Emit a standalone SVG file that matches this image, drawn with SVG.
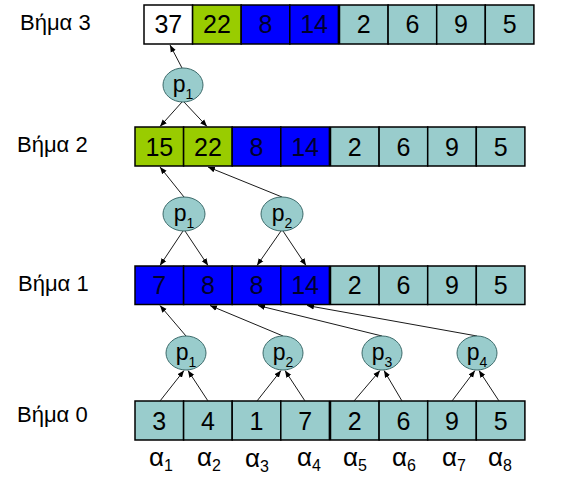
<svg xmlns="http://www.w3.org/2000/svg" width="570" height="477" viewBox="0 0 570 477">
<style>
.lbl{font-family:"Liberation Sans",Arial,sans-serif;font-size:22px;fill:#000}
.num{font-family:"Liberation Sans",Arial,sans-serif;font-size:25px;fill:#000;text-anchor:middle}
.nb{fill:#00002e}
.c{stroke:#000;stroke-width:1.5}
.w{fill:#fff}.g{fill:#99cc00}.b{fill:#0000ff}.t{fill:#99cccc}
.ell{fill:#99cccc;stroke:#3d6b6b;stroke-width:1}
.pl{font-family:"Liberation Sans",Arial,sans-serif;font-size:23px;fill:#000;text-anchor:middle}
.al{font-family:"Liberation Sans",Arial,sans-serif;font-size:26px;fill:#000;text-anchor:middle}
.con line{stroke:#1a1a1a;stroke-width:1;marker-end:url(#ah)}
</style>
<defs>
<marker id="ah" viewBox="0 0 10 10" refX="10" refY="5" markerWidth="7" markerHeight="7" orient="auto" markerUnits="userSpaceOnUse">
<path d="M0,1 L10,5 L0,9 z" fill="#000"/>
</marker>
</defs>

<g id="labels">
<text class="lbl" x="20" y="30">Βήμα 3</text>
<text class="lbl" x="17" y="152">Βήμα 2</text>
<text class="lbl" x="18" y="291">Βήμα 1</text>
<text class="lbl" x="17" y="422">Βήμα 0</text>
</g>

<g id="row3">
<rect class="c w" x="144" y="5" width="48.6" height="39"/>
<rect class="c g" x="192.6" y="5" width="48.6" height="39"/>
<rect class="c b" x="241.2" y="5" width="48.6" height="39"/>
<rect class="c b" x="289.8" y="5" width="48.6" height="39"/>
<rect class="c t" x="339.5" y="5" width="48.6" height="39"/>
<rect class="c t" x="388.1" y="5" width="48.6" height="39"/>
<rect class="c t" x="436.7" y="5" width="48.6" height="39"/>
<rect class="c t" x="485.3" y="5" width="48.6" height="39"/>
<text class="num" x="168.3" y="33">37</text>
<text class="num" x="216.9" y="33">22</text>
<text class="num nb" x="265.5" y="33">8</text>
<text class="num nb" x="314.1" y="33">14</text>
<text class="num" x="363.8" y="33">2</text>
<text class="num" x="412.4" y="33">6</text>
<text class="num" x="461" y="33">9</text>
<text class="num" x="509.6" y="33">5</text>
</g>

<g id="row2">
<rect class="c g" x="135" y="127" width="48.6" height="39"/>
<rect class="c g" x="183.6" y="127" width="48.6" height="39"/>
<rect class="c b" x="232.2" y="127" width="48.6" height="39"/>
<rect class="c b" x="280.8" y="127" width="48.6" height="39"/>
<rect class="c t" x="330.5" y="127" width="48.6" height="39"/>
<rect class="c t" x="379.1" y="127" width="48.6" height="39"/>
<rect class="c t" x="427.7" y="127" width="48.6" height="39"/>
<rect class="c t" x="476.3" y="127" width="48.6" height="39"/>
<text class="num" x="159.3" y="155.5">15</text>
<text class="num" x="207.9" y="155.5">22</text>
<text class="num nb" x="256.5" y="155.5">8</text>
<text class="num nb" x="305.1" y="155.5">14</text>
<text class="num" x="354.8" y="155.5">2</text>
<text class="num" x="403.4" y="155.5">6</text>
<text class="num" x="452" y="155.5">9</text>
<text class="num" x="500.6" y="155.5">5</text>
</g>

<g id="row1">
<rect class="c b" x="135" y="266" width="48.6" height="38.5"/>
<rect class="c b" x="183.6" y="266" width="48.6" height="38.5"/>
<rect class="c b" x="232.2" y="266" width="48.6" height="38.5"/>
<rect class="c b" x="280.8" y="266" width="48.6" height="38.5"/>
<rect class="c t" x="330.5" y="266" width="48.6" height="38.5"/>
<rect class="c t" x="379.1" y="266" width="48.6" height="38.5"/>
<rect class="c t" x="427.7" y="266" width="48.6" height="38.5"/>
<rect class="c t" x="476.3" y="266" width="48.6" height="38.5"/>
<text class="num nb" x="159.3" y="294">7</text>
<text class="num nb" x="207.9" y="294">8</text>
<text class="num nb" x="256.5" y="294">8</text>
<text class="num nb" x="305.1" y="294">14</text>
<text class="num" x="354.8" y="294">2</text>
<text class="num" x="403.4" y="294">6</text>
<text class="num" x="452" y="294">9</text>
<text class="num" x="500.6" y="294">5</text>
</g>

<g id="row0">
<rect class="c t" x="135" y="401" width="48.6" height="39"/>
<rect class="c t" x="183.6" y="401" width="48.6" height="39"/>
<rect class="c t" x="232.2" y="401" width="48.6" height="39"/>
<rect class="c t" x="280.8" y="401" width="48.6" height="39"/>
<rect class="c t" x="330.5" y="401" width="48.6" height="39"/>
<rect class="c t" x="379.1" y="401" width="48.6" height="39"/>
<rect class="c t" x="427.7" y="401" width="48.6" height="39"/>
<rect class="c t" x="476.3" y="401" width="48.6" height="39"/>
<text class="num" x="159.3" y="429.5">3</text>
<text class="num" x="207.9" y="429.5">4</text>
<text class="num" x="256.5" y="429.5">1</text>
<text class="num" x="305.1" y="429.5">7</text>
<text class="num" x="354.8" y="429.5">2</text>
<text class="num" x="403.4" y="429.5">6</text>
<text class="num" x="452" y="429.5">9</text>
<text class="num" x="500.6" y="429.5">5</text>
</g>

<g id="alphas">
<text class="al" x="161" y="466">α<tspan font-size="16" dy="5">1</tspan></text>
<text class="al" x="209" y="466">α<tspan font-size="16" dy="5">2</tspan></text>
<text class="al" x="257" y="467">α<tspan font-size="16" dy="5">3</tspan></text>
<text class="al" x="309" y="466">α<tspan font-size="16" dy="5">4</tspan></text>
<text class="al" x="355" y="466">α<tspan font-size="16" dy="5">5</tspan></text>
<text class="al" x="404" y="466">α<tspan font-size="16" dy="5">6</tspan></text>
<text class="al" x="454" y="466">α<tspan font-size="16" dy="5">7</tspan></text>
<text class="al" x="500" y="466">α<tspan font-size="16" dy="5">8</tspan></text>
</g>

<g id="connectors" class="con">
<line x1="182" y1="68" x2="170" y2="45"/>
<line x1="182" y1="102" x2="160" y2="126.5"/>
<line x1="184" y1="102" x2="207" y2="126.5"/>
<line x1="184" y1="197" x2="160" y2="167"/>
<line x1="282" y1="197" x2="208" y2="167"/>
<line x1="183" y1="231" x2="160" y2="265.5"/>
<line x1="185" y1="231" x2="208" y2="265.5"/>
<line x1="281" y1="231" x2="257" y2="265.5"/>
<line x1="283" y1="231" x2="306" y2="265.5"/>
<line x1="186" y1="336" x2="160" y2="305.5"/>
<line x1="283" y1="336" x2="210" y2="305.5"/>
<line x1="382" y1="336" x2="258" y2="305.5"/>
<line x1="477" y1="336" x2="307" y2="305.5"/>
<line x1="160" y1="401" x2="184" y2="370.5"/>
<line x1="208" y1="401" x2="188" y2="370.5"/>
<line x1="257" y1="401" x2="281" y2="370.5"/>
<line x1="305" y1="401" x2="285" y2="370.5"/>
<line x1="354" y1="401" x2="380" y2="370.5"/>
<line x1="402" y1="401" x2="384" y2="370.5"/>
<line x1="452" y1="401" x2="475" y2="370.5"/>
<line x1="499" y1="401" x2="479" y2="370.5"/>
</g>

<g id="p1_s3"><ellipse class="ell" cx="183" cy="85" rx="20" ry="17"/><text class="pl" x="183" y="92">p<tspan font-size="14" dy="7">1</tspan></text></g>
<g id="p1_s2"><ellipse class="ell" cx="184" cy="214" rx="21" ry="17"/><text class="pl" x="184" y="221">p<tspan font-size="14" dy="7">1</tspan></text></g>
<g id="p2_s2"><ellipse class="ell" cx="282" cy="214" rx="21" ry="17"/><text class="pl" x="282" y="221">p<tspan font-size="14" dy="7">2</tspan></text></g>
<g id="p1_s1"><ellipse class="ell" cx="186" cy="353" rx="20" ry="17"/><text class="pl" x="186" y="360">p<tspan font-size="14" dy="7">1</tspan></text></g>
<g id="p2_s1"><ellipse class="ell" cx="283" cy="353" rx="20" ry="17"/><text class="pl" x="283" y="360">p<tspan font-size="14" dy="7">2</tspan></text></g>
<g id="p3_s1"><ellipse class="ell" cx="382" cy="353" rx="20" ry="17"/><text class="pl" x="382" y="360">p<tspan font-size="14" dy="7">3</tspan></text></g>
<g id="p4_s1"><ellipse class="ell" cx="477" cy="353" rx="20" ry="17"/><text class="pl" x="477" y="360">p<tspan font-size="14" dy="7">4</tspan></text></g>
</svg>
